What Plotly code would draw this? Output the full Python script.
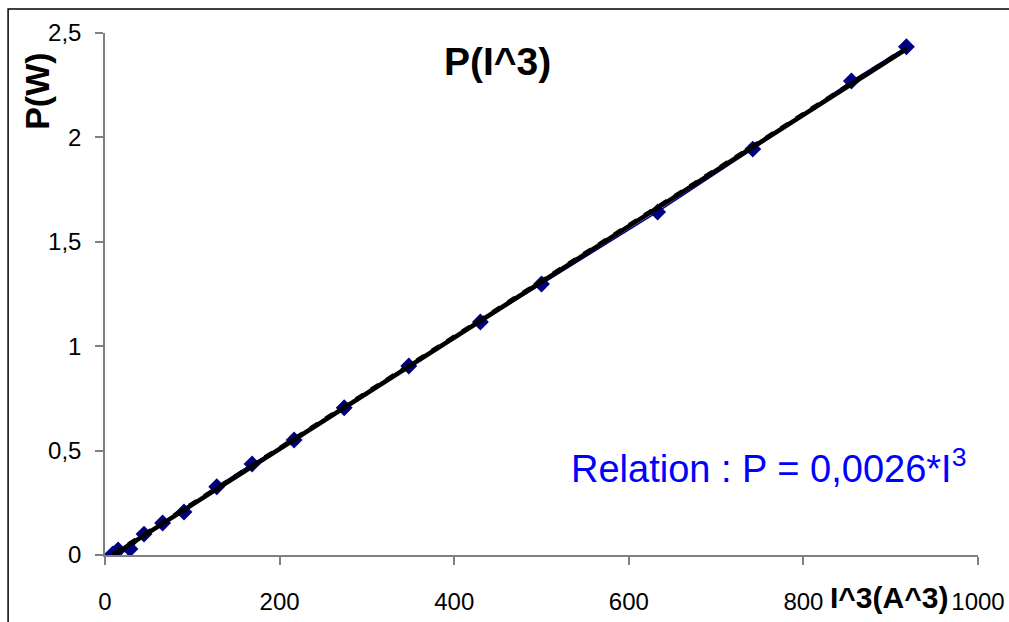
import numpy as np
import plotly.graph_objects as go

# Data
i_cubed = [9, 15, 28.6, 44.7, 66, 90.5, 128, 168.5, 216.6, 274, 348, 430, 500, 633, 742, 855, 918]
power_w = [0.005, 0.024, 0.029, 0.10, 0.153, 0.206, 0.327, 0.436, 0.551, 0.705,
           0.905, 1.116, 1.298, 1.643, 1.944, 2.27, 2.434]

x_ticks = [0, 200, 400, 600, 800, 1000]
x_tick_text = ["0", "200", "400", "600", "800", "1000"]
y_ticks = [0, 0.5, 1, 1.5, 2, 2.5]

# Linear trendline through the data
slope, intercept = np.polyfit(i_cubed, power_w, 1)
trend_x = [i_cubed[0], i_cubed[-1]]
trend_y = [slope * v + intercept for v in trend_x]

FONT = "Liberation Sans, Arial, sans-serif"

fig = go.Figure()
fig.add_trace(go.Scatter(
    x=i_cubed, y=power_w, mode="lines+markers",
    line=dict(color="#000080", width=1.5),
    marker=dict(symbol="diamond", size=13, color="#000080"),
    showlegend=False, hoverinfo="skip"))
fig.add_trace(go.Scatter(
    x=trend_x, y=trend_y, mode="lines",
    line=dict(color="black", width=4.5),
    showlegend=False, hoverinfo="skip"))
fig.add_trace(go.Scatter(
    x=trend_x, y=[v + 0.008 for v in trend_y], mode="lines",
    line=dict(color="black", width=3, dash="dash"),
    showlegend=False, hoverinfo="skip"))

axis_common = dict(
    showgrid=False, zeroline=False, showline=True, linecolor="#808080", linewidth=1.5,
    ticks="outside", ticklen=8, tickcolor="#808080", tickwidth=1.5,
    automargin=False,
    tickfont=dict(family=FONT, size=24, color="black"))

fig.update_xaxes(range=[0, 1000], tickvals=x_ticks, ticktext=x_tick_text,
                 ticklabelstandoff=16, **axis_common)
fig.update_yaxes(range=[0, 2.5], tickvals=y_ticks, tickformat=".1~f",
                 ticklabelstandoff=9, **axis_common)

fig.update_layout(
    width=1009, height=622,
    margin=dict(l=105, r=31, t=33, b=67, autoexpand=False),
    plot_bgcolor="white", paper_bgcolor="white",
    separators=", ",
    font=dict(family=FONT, color="black"),
    shapes=[dict(type="rect", xref="paper", yref="paper",
                 x0=-0.111, x1=1.06, y0=-0.16, y1=1.046,
                 line=dict(color="black", width=1.5), layer="below")],
    annotations=[
        dict(text="<b>P(I^3)</b>", xref="paper", yref="paper", x=0.450, y=0.946,
             showarrow=False, font=dict(family=FONT, size=39, color="black"),
             xanchor="center", yanchor="middle"),
        dict(text="<b>P(W)</b>", xref="paper", yref="paper", x=-0.078, y=0.889,
             textangle=-90, showarrow=False,
             font=dict(family=FONT, size=34, color="black"),
             xanchor="center", yanchor="middle"),
        dict(text="<b>I^3(A^3)</b>", xref="paper", yref="paper", x=0.898, y=-0.082,
             showarrow=False, font=dict(family=FONT, size=30, color="black"),
             xanchor="center", yanchor="middle"),
        dict(text="Relation : P = 0,0026*I<sup>3</sup>", xref="paper", yref="paper",
             x=0.989, y=0.170, showarrow=False,
             font=dict(family=FONT, size=38, color="#0000FF"),
             xanchor="right", yanchor="middle"),
    ],
)

fig.write_html(
    "out.html",
    config={"displayModeBar": False},
    post_script="document.body.style.margin='0';document.body.style.overflow='hidden';",
)
